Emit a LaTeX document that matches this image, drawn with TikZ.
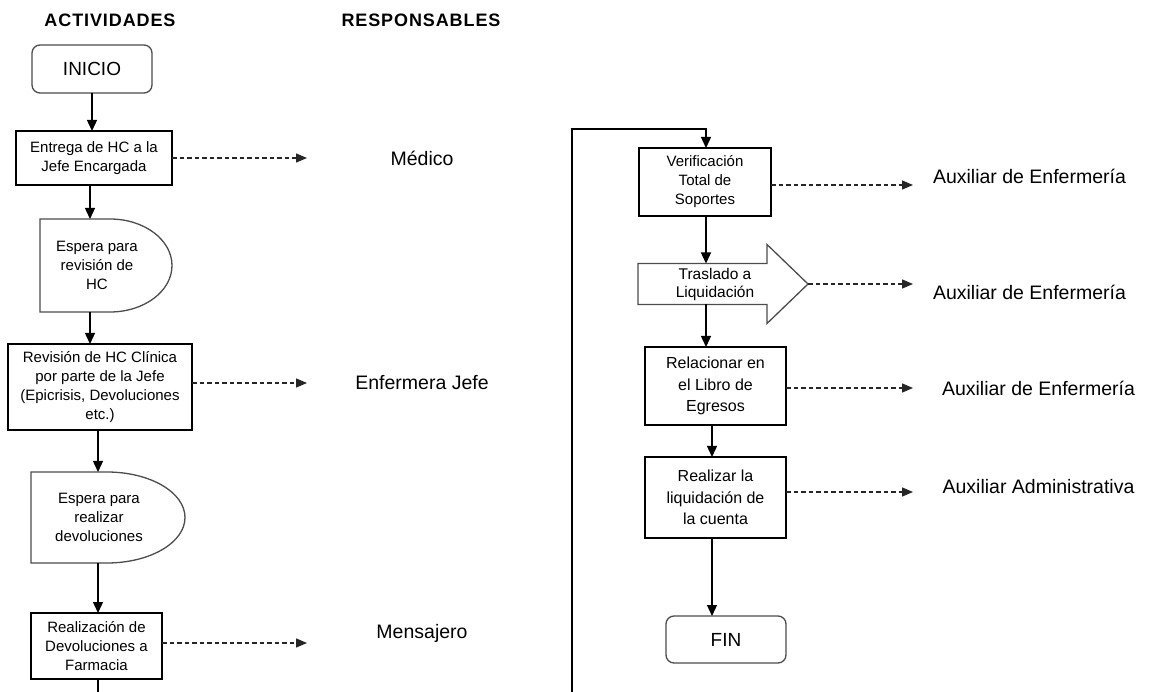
\documentclass[tikz,border=0pt]{standalone}
\usepackage{fontspec}
\setmainfont{Liberation Sans}
\newfontfamily\headfont[LetterSpace=5]{Liberation Sans}
\usetikzlibrary{arrows.meta}
\begin{document}
\begin{tikzpicture}[x=1pt,y=1pt,
  every node/.style={inner sep=0pt, outer sep=0pt},
  proc/.style={draw, line width=1.3pt, align=center, font=\fontsize{15}{19}\selectfont},
  procr/.style={proc, font=\fontsize{16}{21.5}\selectfont},
  term/.style={draw=black!70, line width=1.3pt, rounded corners=8pt, font=\fontsize{19}{23}\selectfont},
  plain/.style={align=center, font=\fontsize{15}{19}\selectfont},
  outline/.style={draw=black!70, line width=1.3pt},
  flow/.style={line width=1.3pt, -{Triangle[length=11pt,width=10pt]}},
  duty/.style={line width=1.3pt, black!85, dash pattern=on 4.5pt off 3pt, -{Triangle[length=11pt,width=9pt]}},
  who/.style={font=\fontsize{19.5}{23}\selectfont},
  head/.style={font=\headfont\bfseries\fontsize{18}{22}\selectfont}
]
\useasboundingbox (0,0) rectangle (1149,-692);

% column headings
\node[head] (hA) at (110,-20) {ACTIVIDADES};
\node[head] (hR) at (421,-20) {RESPONSABLES};

% guide coordinates
\coordinate (colA) at (90,0);
\coordinate (colB) at (98,0);
\coordinate (colC) at (706,0);
\coordinate (colD) at (712,0);
\coordinate (endL) at (307,0);
\coordinate (endR) at (913,0);

% left column of activities
\node[term, minimum width=120, minimum height=48] (ini) at (92,-69) {INICIO};
\node[proc, minimum width=156, minimum height=54] (b1) at (94,-158) {Entrega de HC a la\\Jefe Encargada};
\node[plain, minimum width=114, minimum height=93] (w1) at (97,-265.5) {Espera para\\revisión de\\HC};
\draw[outline] (w1.north west) -- ++(70,0) arc[start angle=90,end angle=-90,x radius=62,y radius=46.5] -- (w1.south west) -- cycle;
\node[proc, minimum width=184, minimum height=86] (b2) at (100,-387) {Revisión de HC Clínica\\por parte de la Jefe\\(Epicrisis, Devoluciones\\etc.)};
\node[plain, minimum width=136, minimum height=91] (w2) at (99,-517.5) {Espera para\\realizar\\devoluciones};
\draw[outline] (w2.north west) -- ++(76,0) arc[start angle=90,end angle=-90,x radius=78,y radius=45.5] -- (w2.south west) -- cycle;
\node[proc, minimum width=131, minimum height=66] (b3) at (96.5,-646) {Realización de\\Devoluciones a\\Farmacia};
\coordinate (cutL) at (98,-692);

\draw[flow] (ini.south) -- (ini.south |- b1.north);
\draw[flow] (b1.south -| colA) -- (w1.north -| colA);
\draw[flow] (w1.south -| colA) -- (b2.north -| colA);
\draw[flow] (b2.south -| colB) -- (w2.north -| colB);
\draw[flow] (w2.south -| colB) -- (b3.north -| colB);
\draw[line width=1.3pt] (b3.south -| colB) -- (cutL);

% responsibles, left
\node[who] (m1) at (422,-158) {Médico};
\node[who] (m2) at (422,-383) {Enfermera Jefe};
\node[who] (m3) at (422,-633) {Mensajero};
\draw[duty] (b1.east) -- (b1.east -| endL);
\draw[duty] ([yshift=4pt]b2.east) -- ([yshift=4pt]b2.east -| endL);
\draw[duty] ([yshift=3pt]b3.east) -- ([yshift=3pt]b3.east -| endL);

% right column of activities
\node[proc, minimum width=132, minimum height=68] (v1) at (705,-182) {Verificación\\Total de\\Soportes};
\node[plain, font=\fontsize{15.5}{18}\selectfont, minimum width=154, minimum height=41] (tr) at (715,-284) {Traslado a\\Liquidación};
\draw[outline] (tr.north west) -- ++(129,0) -- ++(0,19) -- ++(41,-39.5) coordinate (trtip)
  -- ++(-41,-39.5) -- ++(0,19) -- (tr.south west) -- cycle;
\node[procr, minimum width=141, minimum height=78] (r1) at (715.5,-386) {Relacionar en\\el Libro de\\Egresos};
\node[procr, minimum width=141, minimum height=81] (r2) at (715.5,-497.5) {Realizar la\\liquidación de\\la cuenta};
\node[term, minimum width=120, minimum height=47] (fin) at (726,-639.5) {FIN};

% return line from the bottom of the page
\coordinate (cutR) at (572,-692);
\coordinate (bend) at (572,-129);
\draw[flow] (cutR) -- (bend) -- (bend -| colC) -- (v1.north -| colC);

\draw[flow] (v1.south -| colC) -- (tr.north -| colC);
\draw[flow] (tr.south -| colC) -- (r1.north -| colC);
\draw[flow] (r1.south -| colD) -- (r2.north -| colD);
\draw[flow] (r2.south -| colD) -- (fin.north -| colD);

% responsibles, right
\node[who] (a1) at (1029.5,-176) {Auxiliar de Enfermería};
\node[who] (a2) at (1029.5,-292) {Auxiliar de Enfermería};
\node[who] (a3) at (1038.5,-388) {Auxiliar de Enfermería};
\node[who] (a4) at (1038.5,-487) {Auxiliar Administrativa};
\draw[duty] ([yshift=-3pt]v1.east) -- ([yshift=-3pt]v1.east -| endR);
\draw[duty] (trtip) -- (trtip -| endR);
\draw[duty] ([yshift=-2pt]r1.east) -- ([yshift=-2pt]r1.east -| endR);
\draw[duty] ([yshift=5.5pt]r2.east) -- ([yshift=5.5pt]r2.east -| endR);
\end{tikzpicture}
\end{document}
